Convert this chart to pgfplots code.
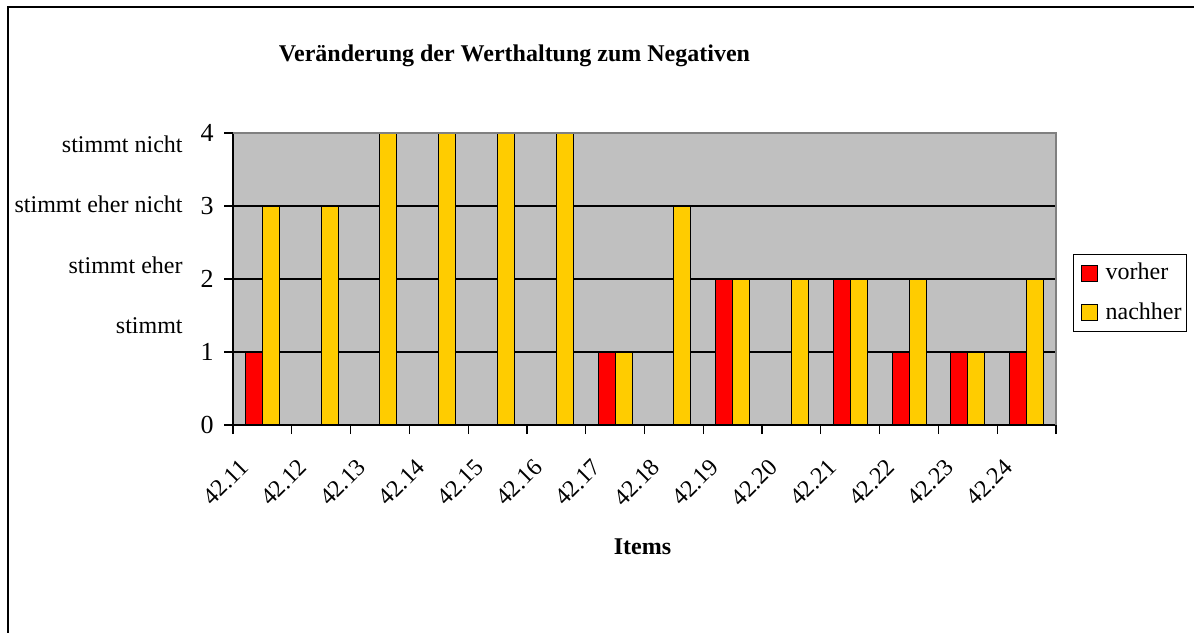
\documentclass[12pt,border=0pt]{standalone}
\usepackage{fontspec}
\setmainfont{Liberation Serif}
\usepackage{pgfplots}
\pgfplotsset{compat=1.18}
\definecolor{barred}{RGB}{255,0,0}
\definecolor{baryellow}{RGB}{255,204,0}
\definecolor{plotgray}{RGB}{192,192,192}
\definecolor{bordergray}{RGB}{128,128,128}
\begin{document}
\begin{tikzpicture}[x=1pt,y=1pt]
\draw[line width=1pt] (4,-10) -- (4,312.5) -- (610,312.5);
\node[font=\bfseries, anchor=base] at (257.25,285) {Veränderung der Werthaltung zum Negativen};
\node[font=\bfseries, anchor=base] at (321.25,38.5) {Items};
\node[anchor=base east, inner sep=0pt] at (91.5,239.5) {stimmt nicht};
\node[anchor=base east, inner sep=0pt] at (91.5,209.5) {stimmt eher nicht};
\node[anchor=base east, inner sep=0pt] at (91.5,179) {stimmt eher};
\node[anchor=base east, inner sep=0pt] at (91.5,149) {stimmt};
\begin{axis}[
  at={(116.5pt,103.5pt)}, anchor=south west,
  scale only axis, width=411.5pt, height=146pt,
  /pgf/number format/assume math mode=true,
  ymin=0, ymax=4, ytick={0,1,2,3,4},
  yticklabel style={font=\fontsize{13}{15}\selectfont, xshift=-1pt},
  xmin=-0.5, xmax=13.5,
  xtick={-0.5,0.5,1.5,2.5,3.5,4.5,5.5,6.5,7.5,8.5,9.5,10.5,11.5,12.5,13.5},
  xticklabels={},
  extra x ticks={0,1,2,3,4,5,6,7,8,9,10,11,12,13},
  extra x tick labels={42.11,42.12,42.13,42.14,42.15,42.16,42.17,42.18,42.19,42.20,42.21,42.22,42.23,42.24},
  extra x tick style={major tick length=0pt, grid=none,
    tick label style={xshift=-12pt, yshift=-16pt, rotate=45, anchor=north east, inner sep=0pt}},
  tick align=outside, major tick length=4.5pt,
  axis x line*=bottom, axis y line*=left,
  axis line style={black, line width=0.6pt},
  tick style={black, line width=0.6pt},
  ymajorgrids=true,
  grid style={black, line width=0.6pt},
  axis background/.style={fill=plotgray},
  ybar=0pt, bar width=8.5pt,
  legend style={at={(rel axis cs:1.0207,0.452)}, anchor=west, draw=black,
    line width=0.6pt, row sep=5.5pt, inner xsep=0.5pt, inner ysep=2.5pt,
    cells={anchor=west}},
  after end axis/.code={
    \draw[bordergray, line width=0.75pt] (rel axis cs:0,1) -- (rel axis cs:1,1) -- (rel axis cs:1,0);
  },
]
\addplot[fill=barred, draw=black, line width=0.5pt,
  legend image code/.code={\path[draw=none, fill=none] (0pt,0pt) -- (13.5pt,0pt);
    \draw[fill=barred, draw=black, line width=0.6pt] (3.5pt,-4pt) rectangle (11.5pt,4pt);}]
  coordinates {(0,1) (6,1) (8,2) (10,2) (11,1) (12,1) (13,1)};
\addplot[fill=baryellow, draw=black, line width=0.5pt,
  legend image code/.code={\path[draw=none, fill=none] (0pt,0pt) -- (13.5pt,0pt);
    \draw[fill=baryellow, draw=black, line width=0.6pt] (3.5pt,-4pt) rectangle (11.5pt,4pt);}]
  coordinates {(0,3) (1,3) (2,4) (3,4) (4,4) (5,4) (6,1) (7,3) (8,2) (9,2) (10,2) (11,2) (12,1) (13,2)};
\legend{vorher,nachher}
\end{axis}
\pgfresetboundingbox
\useasboundingbox (0,0) rectangle (597,316);
\end{tikzpicture}
\end{document}
